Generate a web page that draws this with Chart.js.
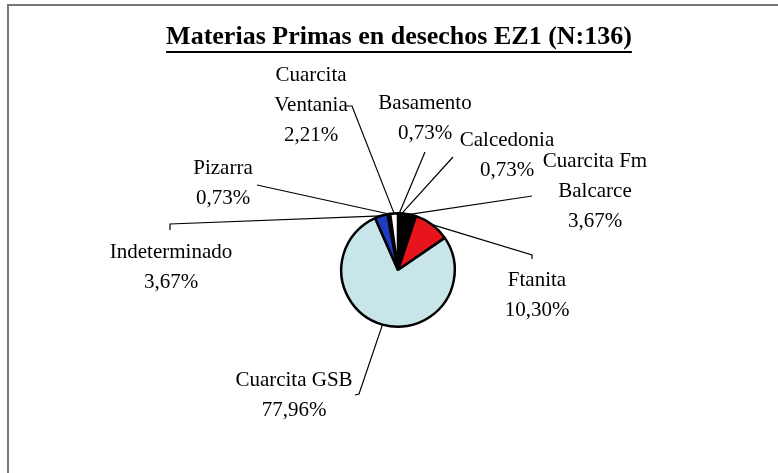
<!DOCTYPE html>
<html>
<head>
<meta charset="utf-8">
<script src="https://cdn.jsdelivr.net/npm/chart.js@4/dist/chart.umd.min.js"></script>
<style>
  html, body { margin: 0; padding: 0; background: #fff; }
  #wrap { width: 778px; height: 473px; position: relative; }
</style>
</head>
<body>
<div id="wrap"><canvas id="pieChart" width="778" height="473"></canvas></div>
<script>
const titleText = 'Materias Primas en desechos EZ1 (N:136)';
const categories = ['Basamento', 'Calcedonia', 'Cuarcita Fm Balcarce', 'Ftanita', 'Cuarcita GSB', 'Indeterminado', 'Pizarra', 'Cuarcita Ventania'];
const values = [0.73, 0.73, 3.67, 10.30, 77.96, 3.67, 0.73, 2.21];
const labelLines = [
    ['Basamento', '0,73%'],
    ['Calcedonia', '0,73%'],
    ['Cuarcita Fm', 'Balcarce', '3,67%'],
    ['Ftanita', '10,30%'],
    ['Cuarcita GSB', '77,96%'],
    ['Indeterminado', '3,67%'],
    ['Pizarra', '0,73%'],
    ['Cuarcita', 'Ventania', '2,21%']
];
const colors = ['#000000', '#000000', '#000000', '#e8141c', '#c8e6e9', '#1e3cc0', '#000000', '#ffffff'];

// where each label sits (centre x, first line y) and the leader path towards the slice
const labelLayout = [
    { x: 425, y: 103, path: [[425, 152]] },
    { x: 507, y: 140, path: [[453, 157]] },
    { x: 595, y: 161, path: [[532, 196]] },
    { x: 537, y: 280, path: [[532, 259], [532, 255]] },
    { x: 294, y: 380, path: [[355, 395], [359, 394]] },
    { x: 171, y: 252, path: [[170, 230], [170, 224]] },
    { x: 223, y: 168, path: [[257, 185]] },
    { x: 311, y: 75, path: [[346, 106], [352, 106]] }
];

const labelsPlugin = {
    id: 'pieLabels',
    afterDraw(chart) {
        const ctx = chart.ctx;
        const meta = chart.getDatasetMeta(0);
        ctx.save();

        // frame
        ctx.strokeStyle = '#777';
        ctx.lineWidth = 2;
        ctx.beginPath();
        ctx.moveTo(8, 473);
        ctx.lineTo(8, 5);
        ctx.lineTo(778, 5);
        ctx.stroke();

        // title, underlined
        ctx.fillStyle = '#000';
        ctx.font = 'bold 26px "Liberation Serif", "Times New Roman", serif';
        ctx.textAlign = 'center';
        ctx.textBaseline = 'middle';
        ctx.fillText(titleText, 399, 37);
        const tw = ctx.measureText(titleText).width;
        ctx.fillRect(399 - tw / 2, 51, tw, 2);

        // leader lines
        ctx.strokeStyle = '#000';
        ctx.lineWidth = 1.2;
        meta.data.forEach((arc, i) => {
            const mid = (arc.startAngle + arc.endAngle) / 2;
            const ex = arc.x + Math.cos(mid) * arc.outerRadius;
            const ey = arc.y + Math.sin(mid) * arc.outerRadius;
            const pts = labelLayout[i].path;
            ctx.beginPath();
            ctx.moveTo(pts[0][0], pts[0][1]);
            for (let k = 1; k < pts.length; k++) ctx.lineTo(pts[k][0], pts[k][1]);
            ctx.lineTo(ex, ey);
            ctx.stroke();
        });

        // label text
        ctx.font = '21px "Liberation Serif", "Times New Roman", serif';
        labelLines.forEach((lines, i) => {
            const l = labelLayout[i];
            lines.forEach((t, k) => ctx.fillText(t, l.x, l.y + k * 30));
        });
        ctx.restore();
    }
};

new Chart(document.getElementById('pieChart').getContext('2d'), {
    type: 'pie',
    data: {
        labels: categories,
        datasets: [{
            data: values,
            backgroundColor: colors,
            borderColor: '#000',
            borderWidth: 2.5
        }]
    },
    options: {
        responsive: false,
        animation: false,
        layout: { padding: { left: 340, right: 322, top: 212, bottom: 145 } },
        plugins: {
            legend: { display: false },
            tooltip: { enabled: false },
            title: { display: false }
        }
    },
    plugins: [labelsPlugin]
});
</script>
</body>
</html>
